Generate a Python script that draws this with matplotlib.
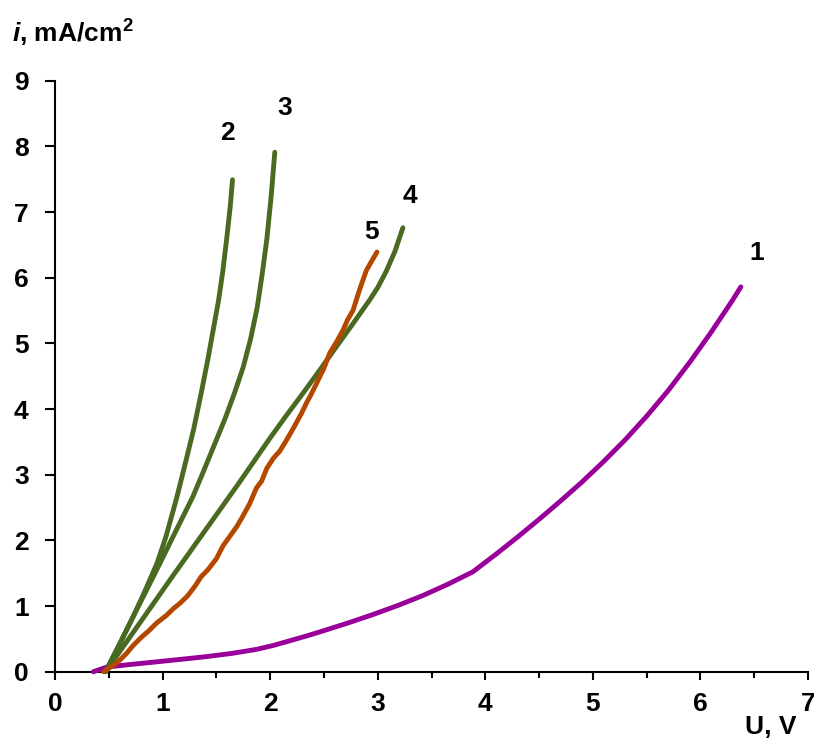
import matplotlib
matplotlib.use("Agg")
import matplotlib.pyplot as plt
from matplotlib.ticker import MultipleLocator

# ---- data ----
u1 = [0.356, 0.48, 0.70, 0.944, 1.18, 1.409, 1.65, 1.873, 2.03, 2.18, 2.34, 2.49, 2.72, 2.955, 3.19, 3.42,
      3.65, 3.884, 4.1, 4.3, 4.5, 4.7, 4.9, 5.1, 5.3, 5.5, 5.7, 5.9, 6.1, 6.3, 6.376]
i1 = [0.0, 0.07, 0.11, 0.15, 0.19, 0.23, 0.28, 0.34, 0.40, 0.47, 0.545, 0.62, 0.74, 0.87, 1.01, 1.16,
      1.33, 1.52, 1.79, 2.05, 2.32, 2.60, 2.89, 3.20, 3.53, 3.89, 4.28, 4.71, 5.17, 5.66, 5.86]

u2 = [0.47, 0.6, 0.73, 0.85, 0.95, 1.03, 1.13, 1.22, 1.29, 1.36, 1.42, 1.47, 1.52, 1.56, 1.60, 1.63, 1.65]
i2 = [0.0, 0.42, 0.85, 1.28, 1.66, 2.05, 2.64, 3.23, 3.70, 4.25, 4.75, 5.20, 5.65, 6.10, 6.65, 7.10, 7.49]

u3 = [0.47, 0.6, 0.73, 0.85, 0.975, 1.08, 1.18, 1.28, 1.38, 1.48, 1.58, 1.67, 1.75, 1.82, 1.88, 1.93, 1.97, 2.01, 2.043]
i3 = [0.0, 0.42, 0.85, 1.24, 1.65, 2.0, 2.33, 2.66, 3.05, 3.45, 3.85, 4.25, 4.64, 5.08, 5.55, 6.10, 6.60, 7.25, 7.91]

u4 = [0.47, 0.8, 1.1, 1.4, 1.7, 2.0, 2.15, 2.305, 2.46, 2.616, 2.77, 2.925, 3.0, 3.08, 3.16, 3.234]
i4 = [0.0, 0.77, 1.47, 2.16, 2.85, 3.56, 3.90, 4.24, 4.59, 4.95, 5.30, 5.66, 5.85, 6.10, 6.40, 6.76]

u5 = [0.45, 0.573, 0.66, 0.727, 0.80, 0.87, 0.944, 1.037, 1.10, 1.16, 1.23, 1.30, 1.36, 1.42, 1.5, 1.563, 1.62,
      1.69, 1.75, 1.81, 1.873, 1.92, 1.97, 2.03, 2.09, 2.15, 2.22, 2.29, 2.34, 2.38, 2.44, 2.50, 2.553, 2.62,
      2.677, 2.72, 2.77, 2.83, 2.894, 2.95, 2.993]
i5 = [0.0, 0.13, 0.27, 0.40, 0.52, 0.62, 0.74, 0.86, 0.96, 1.04, 1.15, 1.30, 1.45, 1.55, 1.72, 1.92, 2.05,
      2.21, 2.38, 2.56, 2.80, 2.90, 3.10, 3.25, 3.36, 3.52, 3.72, 3.93, 4.10, 4.22, 4.42, 4.62, 4.85, 5.03,
      5.20, 5.36, 5.50, 5.81, 6.11, 6.27, 6.39]

curve_labels = ["1", "2", "3", "4", "5"]
label_u = [6.52, 1.60, 2.14, 3.30, 2.94]
label_i = [6.37, 8.20, 8.58, 7.25, 6.69]

purple = "#990099"
green = "#4a6a22"
orange = "#b44800"

plt.rcParams['font.family'] = ['Liberation Sans', 'DejaVu Sans']
plt.rcParams['mathtext.fontset'] = 'custom'
plt.rcParams['mathtext.rm'] = 'Liberation Sans:bold'
plt.rcParams['mathtext.it'] = 'Liberation Sans:italic:bold'
plt.rcParams['mathtext.bf'] = 'Liberation Sans:bold'

fig = plt.figure(figsize=(8.14, 7.4), dpi=100)
ax = fig.add_axes([0.0676, 0.0923, 0.9250, 0.7987])

lw = 3.5
for u, i, c in [(u1, i1, purple), (u2, i2, green), (u3, i3, green), (u4, i4, green), (u5, i5, orange)]:
    ax.plot(u, i, color=c, lw=lw, solid_capstyle='round', solid_joinstyle='round', clip_on=False, zorder=3)

for t, x, y in zip(curve_labels, label_u, label_i):
    ax.text(x, y, t, fontsize=19, fontweight='bold', ha='center', va='center')

ax.set_xlim(0, 7)
ax.set_ylim(0, 9)
ax.xaxis.set_major_locator(MultipleLocator(1))
ax.xaxis.set_minor_locator(MultipleLocator(0.5))
ax.yaxis.set_major_locator(MultipleLocator(1))

for s in ['top', 'right']:
    ax.spines[s].set_visible(False)
for s in ['left', 'bottom']:
    ax.spines[s].set_linewidth(1.5)

ax.tick_params(axis='x', which='major', direction='out', length=5.5, width=1.5, pad=9, labelsize=19)
ax.tick_params(axis='x', which='minor', direction='out', length=4, width=1.5)
ax.tick_params(axis='y', which='major', direction='out', length=7, width=1.5, pad=12, labelsize=19)
for lab in ax.get_xticklabels() + ax.get_yticklabels():
    lab.set_fontweight('bold')

fig.text(12/814, 1 - 33/740, r"$i$, mA/cm$^{2}$", fontsize=19, fontweight='bold', ha='left', va='center')
fig.text(771/814, 1 - 727/740, "U, V", fontsize=19, fontweight='bold', ha='center', va='center')

fig.savefig("out.png", dpi=100)
